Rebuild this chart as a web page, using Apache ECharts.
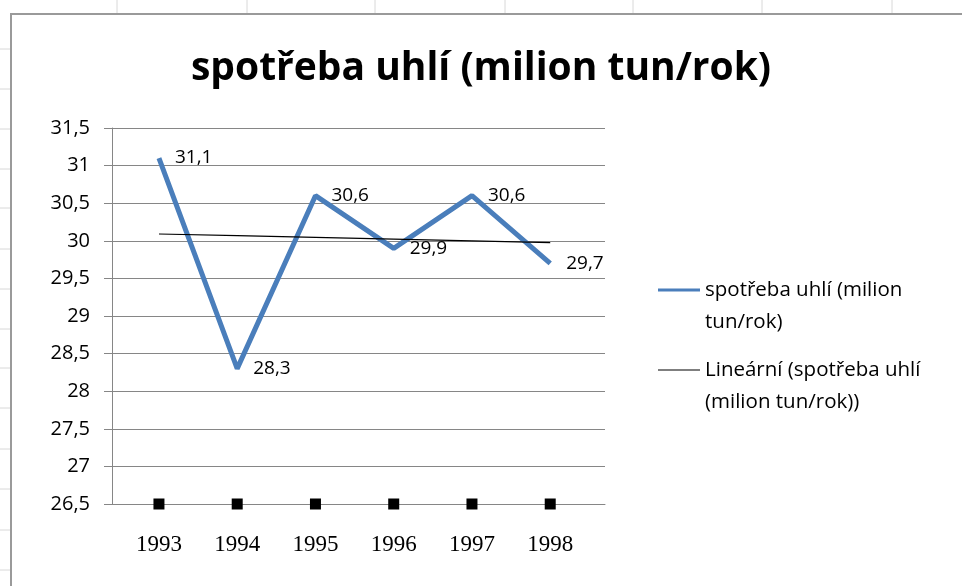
<!DOCTYPE html>
<html>
<head>
<meta charset="utf-8">
<script src="https://cdn.jsdelivr.net/npm/echarts@6/dist/echarts.min.js"></script>
<style>
  html, body { margin: 0; padding: 0; background: #fff; }
  #chart { width: 962px; height: 586px; }
</style>
</head>
<body>
<div id="chart"></div>
<script>
// data
const years = [1993, 1994, 1995, 1996, 1997, 1998];
const consumption = [31.1, 28.3, 30.6, 29.9, 30.6, 29.7];
const yTicks = [26.5, 27, 27.5, 28, 28.5, 29, 29.5, 30, 30.5, 31, 31.5];

const seriesName = 'spotřeba uhlí (milion tun/rok)';
const trendName = 'Lineární (spotřeba uhlí (milion tun/rok))';

// least squares trend, like Excel's linear trendline
const n = years.length;
const mx = years.reduce((a, b) => a + b, 0) / n;
const my = consumption.reduce((a, b) => a + b, 0) / n;
let sxy = 0, sxx = 0;
years.forEach((x, i) => { sxy += (x - mx) * (consumption[i] - my); sxx += (x - mx) * (x - mx); });
const slope = sxy / sxx;
const trend = years.map(x => my + slope * (x - mx));

const comma = v => String(v).replace('.', ',');
const font = '"Open Sans", Lato, sans-serif';

const chart = echarts.init(document.getElementById('chart'));

// faint worksheet cell lines outside the chart frame
const sheetLines = [];
[117, 247, 375, 505, 633, 762, 892].forEach(x => sheetLines.push({ type: 'line', shape: { x1: x, y1: 0, x2: x, y2: 13 }, style: { stroke: '#d8d8d8', lineWidth: 1 } }));
[49, 89, 129, 169, 208, 249, 289, 329, 368, 408, 449, 489, 530, 570].forEach(y => sheetLines.push({ type: 'line', shape: { x1: 0, y1: y, x2: 10, y2: y }, style: { stroke: '#d8d8d8', lineWidth: 1 } }));

const legendText = { fontFamily: font, fontSize: 20.5, color: '#000', lineHeight: 32 };

chart.setOption({
    backgroundColor: '#fff',
    animation: false,
    title: {
        text: seriesName,
        left: 'center',
        top: 44,
        textStyle: { fontFamily: font, fontSize: 39, fontWeight: 'bold', color: '#000' }
    },
    graphic: [
        ...sheetLines,
        { type: 'line', shape: { x1: 10, y1: 14, x2: 962, y2: 14 }, style: { stroke: '#9a9a9a', lineWidth: 2 } },
        { type: 'line', shape: { x1: 11, y1: 14, x2: 11, y2: 586 }, style: { stroke: '#9a9a9a', lineWidth: 2 } }
    ],
    legend: [
        {
            data: [seriesName],
            left: 658,
            top: 242,
            padding: 0,
            icon: 'rect',
            itemWidth: 42,
            itemHeight: 3,
            formatter: () => '\nspotřeba uhlí (milion\ntun/rok)',
            textStyle: legendText
        },
        {
            data: [trendName],
            left: 658,
            top: 322,
            padding: 0,
            icon: 'rect',
            itemWidth: 42,
            itemHeight: 1.2,
            formatter: () => '\nLineární (spotřeba uhlí\n(milion tun/rok))',
            textStyle: legendText
        }
    ],
    grid: { left: 112, right: 357, top: 128, bottom: 82 },
    xAxis: {
        type: 'value',
        min: 1992.4,
        max: 1998.7,
        splitLine: { show: false },
        axisTick: { show: false },
        axisLine: { show: true, lineStyle: { color: '#868686', width: 1 } },
        axisLabel: {
            customValues: years,
            formatter: v => String(v),
            margin: 29,
            fontFamily: '"Liberation Serif", "Times New Roman", serif',
            fontSize: 23,
            color: '#000'
        }
    },
    yAxis: {
        type: 'value',
        min: yTicks[0],
        max: yTicks[yTicks.length - 1],
        interval: 0.5,
        axisLine: { show: true, lineStyle: { color: '#868686', width: 1 } },
        axisTick: { show: true, length: 8, lineStyle: { color: '#868686' } },
        splitLine: { show: true, lineStyle: { color: '#868686', width: 1 } },
        axisLabel: { formatter: comma, margin: 22, fontFamily: font, fontSize: 20, color: '#000' }
    },
    series: [
        {
            name: seriesName,
            type: 'line',
            data: years.map((y, i) => [y, consumption[i]]),
            symbol: 'none',
            lineStyle: { color: '#4a7ebb', width: 5 },
            itemStyle: { color: '#4a7ebb' },
            z: 3
        },
        {
            name: trendName,
            type: 'line',
            data: years.map((y, i) => [y, trend[i]]),
            symbol: 'none',
            lineStyle: { color: '#000', width: 1.2 },
            itemStyle: { color: '#000' },
            z: 4
        },
        {
            // value labels beside the points
            type: 'scatter',
            data: years.map((y, i) => [y, consumption[i]]),
            symbolSize: 0,
            itemStyle: { color: '#4a7ebb', opacity: 1 },
            label: {
                show: true,
                position: 'right',
                distance: 16,
                formatter: p => comma(p.value[1]),
                fontFamily: font,
                fontSize: 19,
                color: '#000'
            },
            z: 5
        },
        {
            // black square markers on the base line
            type: 'scatter',
            data: years.map(y => [y, yTicks[0]]),
            symbol: 'rect',
            symbolSize: 11,
            itemStyle: { color: '#000', opacity: 1 },
            z: 6
        }
    ]
});
</script>
</body>
</html>
